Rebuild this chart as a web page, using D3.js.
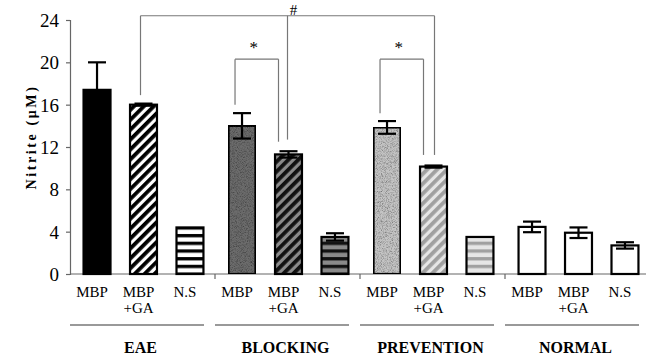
<!DOCTYPE html>
<html>
<head>
<meta charset="utf-8">
<script src="https://cdn.jsdelivr.net/npm/d3@7"></script>
<style>
  body { margin: 0; background: #fff; }
</style>
</head>
<body>
<div id="chart"></div>
<script>
// nitrite levels per treatment group

let width = 646;
let height = 357;
let serif = "'Liberation Serif', 'Times New Roman', Times, 'DejaVu Serif', serif";

let groups = ["EAE", "BLOCKING", "PREVENTION", "NORMAL"];
let subs = ["MBP", "MBP+GA", "N.S"];

// mean nitrite (uM) per group, in the order of subs
let eaeMeans = [17.4, 16.0, 4.4];
let blockingMeans = [14.0, 11.3, 3.5];
let preventionMeans = [13.85, 10.15, 3.5];
let normalMeans = [4.45, 3.9, 2.7];

// error (+/-)
let eaeErr = [2.6, 0.1, 0];
let blockingErr = [1.2, 0.3, 0.35];
let preventionErr = [0.6, 0.1, 0];
let normalErr = [0.5, 0.5, 0.3];

let yTicks = [0, 4, 8, 12, 16, 20, 24];

// significance brackets: [group, sub, value where the leg stops]
let brackets = [
    { mark: "#", top: 24.4, legs: [["EAE", "MBP+GA", 16.9], ["BLOCKING", "MBP+GA", 12.7], ["PREVENTION", "MBP+GA", 11.25]] },
    { mark: "*", top: 20.3, legs: [["BLOCKING", "MBP", 16.0], ["BLOCKING", "MBP+GA", 12.5]] },
    { mark: "*", top: 20.3, legs: [["PREVENTION", "MBP", 15.2], ["PREVENTION", "MBP+GA", 11.25]] }
];

let means = [eaeMeans, blockingMeans, preventionMeans, normalMeans];
let errs = [eaeErr, blockingErr, preventionErr, normalErr];

let data = [];
groups.forEach((g, gi) => {
    subs.forEach((s, si) => {
        data.push({ group: g, sub: s, value: means[gi][si], err: errs[gi][si] });
    });
});

let svg = d3.select("#chart").append("svg")
    .attr("width", width)
    .attr("height", height)
    .attr("font-family", serif)
    .style("background", "#fff");

// fill tones for each group
let tones = {
    EAE: { fg: "#000", bg: "#fff", solid: "#000" },
    BLOCKING: { fg: "#111", bg: "#8a8a8a", solid: "#6c6c6c" },
    PREVENTION: { fg: "#a0a0a0", bg: "#e6e6e6", solid: "#c4c4c4" },
    NORMAL: { fg: "#fff", bg: "#fff", solid: "#fff" }
};

let defs = svg.append("defs");

// grainy texture for the stippled bars
let grain = defs.append("filter").attr("id", "grain")
    .attr("x", 0).attr("y", 0).attr("width", 1).attr("height", 1);
grain.append("feTurbulence").attr("type", "fractalNoise")
    .attr("baseFrequency", 1.2).attr("numOctaves", 2).attr("seed", 3).attr("result", "noise");
grain.append("feColorMatrix").attr("in", "noise").attr("type", "matrix")
    .attr("values", "0 0 0 0 0  0 0 0 0 0  0 0 0 0 0  0 0 0 1.4 -0.55")
    .attr("result", "dots");
grain.append("feComposite").attr("in", "dots").attr("in2", "SourceGraphic").attr("operator", "atop")
    .attr("result", "spk");
grain.append("feMerge").call(m => {
    m.append("feMergeNode").attr("in", "SourceGraphic");
    m.append("feMergeNode").attr("in", "spk");
});

groups.forEach(g => {
    let t = tones[g];
    let diag = defs.append("pattern")
        .attr("id", `diag-${g}`)
        .attr("patternUnits", "userSpaceOnUse")
        .attr("width", 7).attr("height", 7)
        .attr("patternTransform", "rotate(45)");
    diag.append("rect").attr("width", 7).attr("height", 7).attr("fill", t.bg);
    diag.append("rect").attr("width", 3.8).attr("height", 7).attr("fill", t.fg);

    let horiz = defs.append("pattern")
        .attr("id", `horiz-${g}`)
        .attr("patternUnits", "userSpaceOnUse")
        .attr("width", 8).attr("height", 7.7)
        .attr("y", 2);
    horiz.append("rect").attr("width", 8).attr("height", 7.7).attr("fill", t.bg);
    horiz.append("rect").attr("y", 1).attr("width", 8).attr("height", 3.3).attr("fill", t.fg);
});

let fillFor = d => {
    if (d.group === "NORMAL") return "#fff";
    if (d.sub === "MBP") return tones[d.group].solid;
    if (d.sub === "MBP+GA") return `url(#diag-${d.group})`;
    return `url(#horiz-${d.group})`;
};

// scales
let y = d3.scaleLinear().domain([0, 24]).range([274, 20]);

let x0 = d3.scaleBand().domain(groups).range([71, 651]);
let x1 = d3.scaleBand().domain(subs).range([0, x0.bandwidth()])
    .paddingInner(0.42).paddingOuter(0.27);

let cx = (g, s) => x0(g) + x1(s) + x1.bandwidth() / 2;

// y axis
let yAxis = svg.append("g")
    .attr("transform", "translate(70,0)")
    .call(d3.axisLeft(y).tickValues(yTicks).tickSize(4).tickPadding(7).tickFormat(d3.format("d")));
yAxis.attr("font-family", serif).attr("font-size", 19);
yAxis.select(".domain").attr("stroke", "#666").attr("stroke-width", 1.2);
yAxis.selectAll(".tick line").attr("stroke", "#666").attr("stroke-width", 1.2);
yAxis.selectAll("text").attr("fill", "#000").attr("dy", "0.34em");

svg.append("text")
    .attr("transform", "translate(36,137) rotate(-90)")
    .attr("text-anchor", "middle")
    .attr("font-size", 14)
    .attr("font-weight", "bold")
    .attr("letter-spacing", 2.6)
    .text("Nitrite (μM)");

// x axis line and group dividers
svg.append("line")
    .attr("x1", 70).attr("x2", width)
    .attr("y1", y(0)).attr("y2", y(0))
    .attr("stroke", "#666").attr("stroke-width", 1.2);

svg.selectAll(".divider")
    .data(groups.slice(1))
    .join("line")
    .attr("class", "divider")
    .attr("x1", d => x0(d) - 1).attr("x2", d => x0(d) - 1)
    .attr("y1", y(0)).attr("y2", y(0) + 5)
    .attr("stroke", "#666").attr("stroke-width", 1.2);

// bars
svg.selectAll(".bar")
    .data(data)
    .join("rect")
    .attr("class", "bar")
    .attr("x", d => x0(d.group) + x1(d.sub))
    .attr("width", x1.bandwidth())
    .attr("y", d => y(d.value))
    .attr("height", d => y(0) - y(d.value))
    .attr("fill", fillFor)
    .attr("filter", d => (d.sub === "MBP" && d.group !== "EAE" && d.group !== "NORMAL") ? "url(#grain)" : null)
    .attr("stroke", "#000")
    .attr("stroke-width", 2.2);

// error bars
let errData = data.filter(d => d.err > 0);
let capW = 9;

let eb = svg.selectAll(".err")
    .data(errData)
    .join("g")
    .attr("class", "err")
    .attr("stroke", "#000")
    .attr("stroke-width", 2.2);

eb.append("line")
    .attr("x1", d => cx(d.group, d.sub)).attr("x2", d => cx(d.group, d.sub))
    .attr("y1", d => y(d.value - d.err)).attr("y2", d => y(d.value + d.err));
eb.append("line")
    .attr("x1", d => cx(d.group, d.sub) - capW).attr("x2", d => cx(d.group, d.sub) + capW)
    .attr("y1", d => y(d.value + d.err)).attr("y2", d => y(d.value + d.err));
eb.append("line")
    .attr("x1", d => cx(d.group, d.sub) - capW).attr("x2", d => cx(d.group, d.sub) + capW)
    .attr("y1", d => y(d.value - d.err)).attr("y2", d => y(d.value - d.err));

// significance brackets
brackets.forEach(b => {
    let dx = b.mark === "#" ? [-3, -1, 1] : [-7, -10];
    let xs = b.legs.map((l, i) => cx(l[0], l[1]) + dx[i]);
    let g = svg.append("g").attr("stroke", "#777").attr("stroke-width", 1.2).attr("fill", "none");
    g.append("line")
        .attr("x1", d3.min(xs)).attr("x2", d3.max(xs))
        .attr("y1", y(b.top)).attr("y2", y(b.top));
    b.legs.forEach((l, i) => {
        g.append("line")
            .attr("x1", xs[i]).attr("x2", xs[i])
            .attr("y1", y(b.top)).attr("y2", y(l[2]));
    });
    let mx = b.mark === "#" ? xs[1] + 6 : (xs[0] + xs[1]) / 2 - 3;
    svg.append("text")
        .attr("x", mx)
        .attr("y", b.mark === "#" ? y(b.top) - 1 : y(b.top) - 6)
        .attr("text-anchor", "middle")
        .attr("font-size", b.mark === "#" ? 15 : 17)
        .text(b.mark);
});

// category labels under each bar
let labels = svg.selectAll(".cat")
    .data(data)
    .join("text")
    .attr("class", "cat")
    .attr("text-anchor", "middle")
    .attr("font-size", 15)
    .attr("fill", "#000");

labels.selectAll("tspan")
    .data(d => d.sub.split(/(?=\+)/).map((t, i) => ({ t, i, x: cx(d.group, d.sub) - 5 })))
    .join("tspan")
    .attr("x", d => d.x)
    .attr("y", d => 297 + d.i * 16)
    .text(d => d.t);

// group underlines and names
svg.selectAll(".gline")
    .data(groups)
    .join("line")
    .attr("class", "gline")
    .attr("x1", (d, i) => i === 0 ? 70 : x0(d) - 1)
    .attr("x2", d => Math.min(x0(d) + x0.bandwidth() - 12, width))
    .attr("y1", 325).attr("y2", 325)
    .attr("stroke", "#777").attr("stroke-width", 1.3);

svg.selectAll(".gname")
    .data(groups)
    .join("text")
    .attr("class", "gname")
    .attr("x", d => x0(d) + x0.bandwidth() / 2 - 3)
    .attr("y", 353)
    .attr("text-anchor", "middle")
    .attr("font-size", 16)
    .attr("font-weight", "bold")
    .text(d => d);
</script>
</body>
</html>
